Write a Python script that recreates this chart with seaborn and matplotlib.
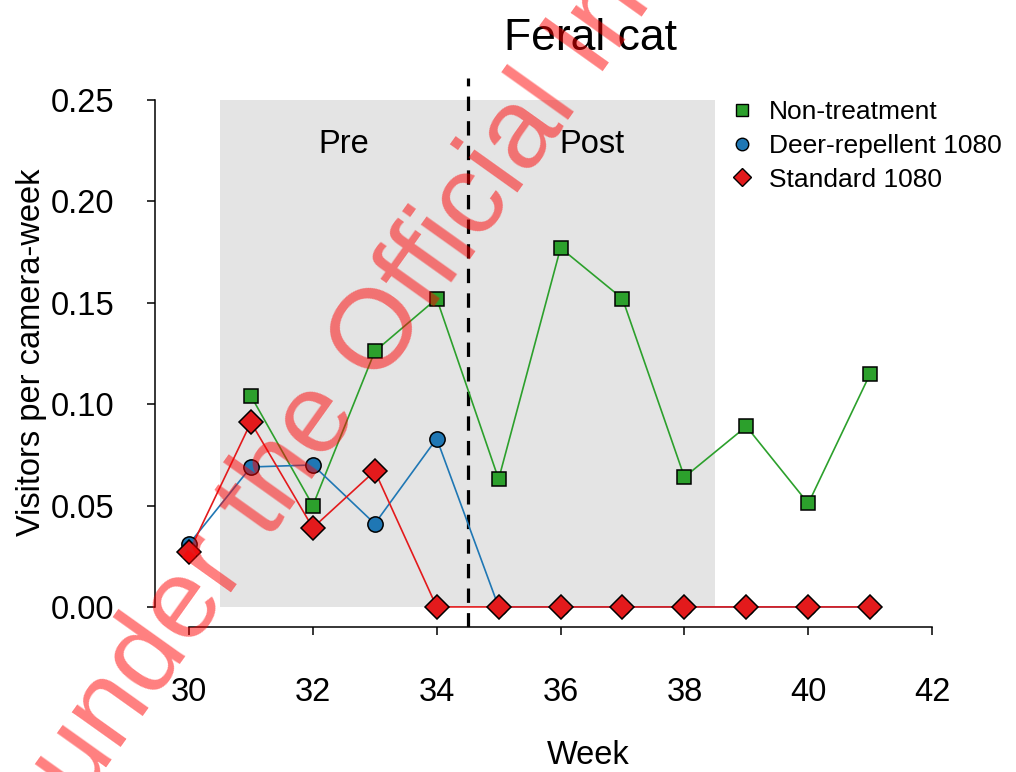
import numpy as np
import pandas as pd
import matplotlib
matplotlib.use("Agg")
import matplotlib.pyplot as plt
from matplotlib.lines import Line2D
import seaborn as sns

# ---- data ----
weeks_nt = [31, 32, 33, 34, 35, 36, 37, 38, 39, 40, 41]
non_treatment = [0.104, 0.050, 0.126, 0.152, 0.063, 0.177, 0.152, 0.064, 0.089, 0.051, 0.115]
weeks_dr = [30, 31, 32, 33, 34, 35, 36, 37, 38, 39, 40, 41]
deer_repellent = [0.031, 0.069, 0.070, 0.041, 0.083, 0.0, 0.0, 0.0, 0.0, 0.0, 0.0, 0.0]
weeks_st = [30, 31, 32, 33, 34, 35, 36, 37, 38, 39, 40, 41]
standard = [0.027, 0.091, 0.039, 0.067, 0.0, 0.0, 0.0, 0.0, 0.0, 0.0, 0.0, 0.0]
series_names = ["Non-treatment", "Deer-repellent 1080", "Standard 1080"]
x_ticks = [30, 32, 34, 36, 38, 40, 42]
y_ticks = [0.00, 0.05, 0.10, 0.15, 0.20, 0.25]
period_labels = ["Pre", "Post"]
title = "Feral cat"
watermark = "under the Official Information Act"

sns.set_theme(style="white")
plt.rcParams["font.family"] = ["Liberation Sans", "DejaVu Sans"]
plt.rcParams["text.color"] = "black"
plt.rcParams["axes.labelcolor"] = "black"
plt.rcParams["xtick.color"] = "black"
plt.rcParams["ytick.color"] = "black"

colors = {"Non-treatment": "#2ca02c", "Deer-repellent 1080": "#1f77b4", "Standard 1080": "#e31a1c"}
markers = {"Non-treatment": "s", "Deer-repellent 1080": "o", "Standard 1080": "D"}
msizes = {"Non-treatment": 9.5, "Deer-repellent 1080": 11, "Standard 1080": 12.5}

df = pd.concat([
    pd.DataFrame({"week": weeks_nt, "value": non_treatment, "series": series_names[0]}),
    pd.DataFrame({"week": weeks_dr, "value": deer_repellent, "series": series_names[1]}),
    pd.DataFrame({"week": weeks_st, "value": standard, "series": series_names[2]}),
], ignore_index=True)

fig = plt.figure(figsize=(10.16, 7.72), dpi=100)
ax = fig.add_axes([155 / 1016, 1 - 627 / 772, (960 - 155) / 1016, (627 - 78) / 772])

ax.set_xlim(29.451, 42.45)
ax.set_ylim(-0.0099, 0.2608)

# shaded period
ax.fill_between([30.5, 38.5], 0, 0.25, color="#e4e4e4", linewidth=0, zorder=0)
ax.axvline(34.5, color="black", linestyle=(0, (4.5, 3.2)), linewidth=2.3, zorder=1)

# lines
for name in series_names:
    sub = df[df["series"] == name]
    sns.lineplot(data=sub, x="week", y="value", color=colors[name], linewidth=1.2,
                 ax=ax, zorder=2, legend=False, estimator=None)
# markers
for name in series_names:
    sub = df[df["series"] == name]
    ax.plot(sub["week"], sub["value"], linestyle="none", marker=markers[name],
            markersize=msizes[name], markerfacecolor=colors[name],
            markeredgecolor="black", markeredgewidth=1.1, zorder=3)

ax.text(32.5, 0.228, period_labels[0], ha="center", va="center", fontsize=23.5, color="black")
ax.text(36.5, 0.228, period_labels[1], ha="center", va="center", fontsize=23.5, color="black")

# axes styling
for s in ["top", "right"]:
    ax.spines[s].set_visible(False)
for s in ["left", "bottom"]:
    ax.spines[s].set_color("black")
    ax.spines[s].set_linewidth(1.1)
ax.spines["left"].set_bounds(0, 0.25)
ax.spines["bottom"].set_bounds(30, 42)
ax.set_xticks(x_ticks)
ax.set_yticks(y_ticks)
ax.set_yticklabels([f"{v:.2f}" for v in y_ticks])
ax.tick_params(axis="both", which="major", direction="out", length=6, width=1.1,
               color="black", labelsize=23.5, labelcolor="black", left=True, bottom=True)
ax.tick_params(axis="y", pad=23)
ax.tick_params(axis="x", pad=30)
ax.grid(False)

ax.set_xlabel("Week", fontsize=23.5, color="black")
ax.set_ylabel("Visitors per camera-week", fontsize=23.5, color="black")
ax.xaxis.set_label_coords((588 - 155) / 805, (627 - 740) / 549)
ax.yaxis.set_label_coords((47 - 155) / 805, 0.5)

fig.text(590 / 1016, 1 - 50 / 772, title, ha="center", va="baseline", fontsize=32, color="black")

handles = [Line2D([], [], linestyle="none", marker=markers[n], markersize=s,
                  markerfacecolor=colors[n], markeredgecolor="black", markeredgewidth=1.0)
           for n, s in zip(series_names, [8, 9, 9.5])]
leg = ax.legend(handles, series_names, loc="upper left", bbox_to_anchor=(729 / 1016, 1 - 100 / 772),
                bbox_transform=fig.transFigure, frameon=False, fontsize=19, borderpad=0,
                borderaxespad=0, handlelength=1.0, handletextpad=0.5, labelspacing=0.37)
for t in leg.get_texts():
    t.set_color("black")

fig.text(80 / 1016, (772 - 804) / 772, watermark, rotation=54.5, rotation_mode="anchor",
         ha="left", va="baseline", fontsize=82, color="red", alpha=0.5, zorder=10)

fig.savefig("out.png", dpi=100)
